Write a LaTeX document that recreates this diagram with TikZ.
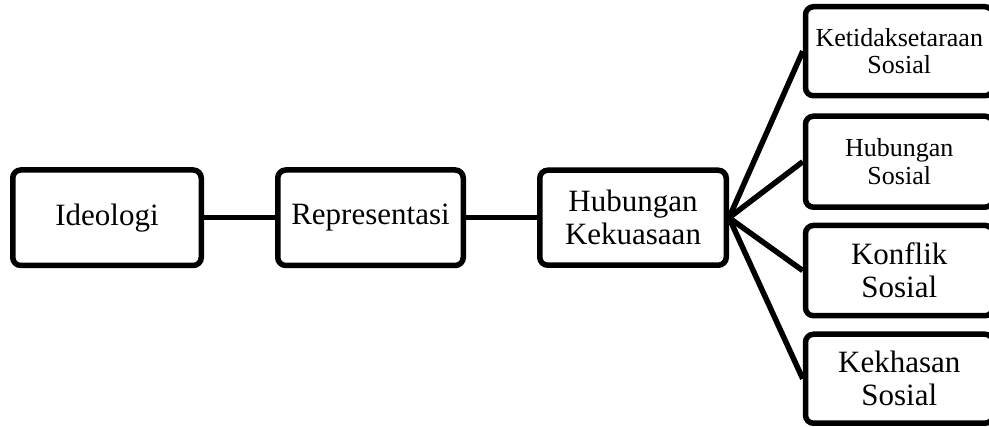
\documentclass[tikz,border=0pt]{standalone}
\usepackage{fontspec}
\setmainfont{Liberation Serif}
\begin{document}
\begin{tikzpicture}[x=1pt,y=-1pt,
  box/.style={draw=black,line width=5.5pt,rounded corners=8pt,align=center,inner sep=0pt,
    font=\fontsize{31}{33}\selectfont},
  smallbox/.style={box,font=\fontsize{26}{27.5}\selectfont},
  link/.style={line width=5.5pt}]
\useasboundingbox (0,0) rectangle (989,427);
\node[box,minimum width=188.5pt,minimum height=95.5pt] (ideo) at (107,217.75) {Ideologi};
\node[box,minimum width=185.5pt,minimum height=95.5pt] (repr) at (370.5,217.75) {Representasi};
\node[box,minimum width=186.5pt,minimum height=95pt] (hk) at (633,217.75) {Hubungan\\Kekuasaan};
\node[smallbox,minimum width=187.5pt,minimum height=89pt] (k1) at (899.25,51.25) {Ketidaksetaraan\\Sosial};
\node[smallbox,minimum width=187.5pt,minimum height=91pt] (k2) at (899.25,161.7) {Hubungan\\Sosial};
\node[box,minimum width=187.5pt,minimum height=90.3pt] (k3) at (899.25,270.6) {Konflik\\Sosial};
\node[box,minimum width=187.5pt,minimum height=89pt] (k4) at (899.25,378.75) {Kekhasan\\Sosial};
\draw[link] (ideo.east) -- (repr.west);
\draw[link] (repr.east) -- (hk.west);
\draw[link] (hk.east) -- (k1.west);
\draw[link] (hk.east) -- (k2.west);
\draw[link] (hk.east) -- (k3.west);
\draw[link] (hk.east) -- (k4.west);
\end{tikzpicture}
\end{document}
